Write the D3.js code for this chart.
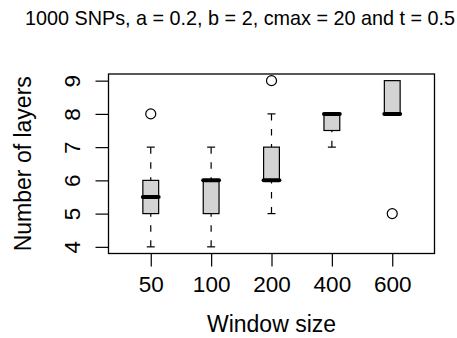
<!DOCTYPE html>
<html>
<head>
<meta charset="utf-8">
<script src="https://cdn.jsdelivr.net/npm/d3@7"></script>
<style>
  body { margin: 0; background: #fff; }
  text { font-family: "Liberation Sans", Arial, sans-serif; fill: #000; }
</style>
</head>
<body>
<div id="chart"></div>
<script>
// data
var windowSizes = ["50", "100", "200", "400", "600"];
var whiskerLow  = [4, 4, 5, 7, 8];
var lowerQuart  = [5, 5, 6, 7.5, 8];
var medians     = [5.5, 6, 6, 8, 8];
var upperQuart  = [6, 6, 7, 8, 9];
var whiskerHigh = [7, 7, 8, 8, 9];
var outliers    = [[8], [], [9], [], [5]];
var yTicks      = [4, 5, 6, 7, 8, 9];

// set the dimensions and margins of the graph
var W = 457, H = 338;
var margin = { top: 74, right: 22.5, bottom: 84.5, left: 108.5 },
    width = W - margin.left - margin.right,
    height = H - margin.top - margin.bottom;

var svg = d3.select("#chart")
    .append("svg")
    .attr("width", W)
    .attr("height", H);

// title
svg.append("text")
    .attr("x", 240)
    .attr("y", 25)
    .attr("text-anchor", "middle")
    .style("font-size", "19.8px")
    .text("1000 SNPs, a = 0.2, b = 2, cmax = 20 and t = 0.5");

var g = svg.append("g")
    .attr("transform", "translate(" + margin.left + "," + margin.top + ")");

// scales like R: 4% padding around the data range
var x = d3.scaleLinear().domain([0.3, 5.7]).range([0, width]);
var y = d3.scaleLinear().domain([3.8, 9.2]).range([height, 0]);

var boxW = 15.8, stapleW = 8;

var stats = windowSizes.map(function (d, i) {
    return { i: i + 1, lo: whiskerLow[i], q1: lowerQuart[i], med: medians[i],
             q3: upperQuart[i], hi: whiskerHigh[i], out: outliers[i] };
});

var boxes = g.selectAll(".box")
    .data(stats)
    .enter()
    .append("g")
    .attr("class", "box");

// whiskers, drawn from the staple toward the box (dashed)
boxes.each(function (d) {
    var sel = d3.select(this), cx = x(d.i);
    [[d.lo, d.q1], [d.hi, d.q3]].forEach(function (w) {
        sel.append("line")
            .attr("x1", cx).attr("x2", cx)
            .attr("y1", y(w[0])).attr("y2", y(w[1]))
            .attr("stroke", "#000")
            .attr("stroke-width", 1.2)
            .attr("stroke-dasharray", "6.5,8.5");
        sel.append("line")
            .attr("x1", cx - stapleW / 2).attr("x2", cx + stapleW / 2)
            .attr("y1", y(w[0])).attr("y2", y(w[0]))
            .attr("stroke", "#000")
            .attr("stroke-width", 1.2);
    });
});

boxes.append("rect")
    .attr("x", function (d) { return x(d.i) - boxW / 2; })
    .attr("y", function (d) { return y(d.q3); })
    .attr("width", boxW)
    .attr("height", function (d) { return y(d.q1) - y(d.q3); })
    .attr("fill", "#d3d3d3")
    .attr("stroke", "#000")
    .attr("stroke-width", 1.2);

boxes.append("line")
    .attr("x1", function (d) { return x(d.i) - boxW / 2; })
    .attr("x2", function (d) { return x(d.i) + boxW / 2; })
    .attr("y1", function (d) { return y(d.med); })
    .attr("y2", function (d) { return y(d.med); })
    .attr("stroke", "#000")
    .attr("stroke-width", 4)
    .attr("stroke-linecap", "round");

// outliers
boxes.each(function (d) {
    d3.select(this).selectAll("circle")
        .data(d.out)
        .enter()
        .append("circle")
        .attr("cx", x(d.i))
        .attr("cy", function (v) { return y(v); })
        .attr("r", 5)
        .attr("fill", "none")
        .attr("stroke", "#000")
        .attr("stroke-width", 1.2);
});

// frame
g.append("rect")
    .attr("width", width)
    .attr("height", height)
    .attr("fill", "none")
    .attr("stroke", "#000")
    .attr("stroke-width", 1.3);

// Y axis
var yAxis = g.append("g")
    .call(d3.axisLeft(y).tickValues(yTicks).tickSize(13).tickFormat(d3.format("d")));
yAxis.select(".domain").remove();
yAxis.selectAll("line").attr("stroke-width", 1.2);
yAxis.selectAll("text")
    .attr("x", null).attr("dy", null)
    .attr("text-anchor", "middle")
    .attr("transform", "translate(-28.5,0) rotate(-90)")
    .style("font-size", "22.5px")
    .style("font-family", "Liberation Sans, Arial, sans-serif");

// X axis
var xAxis = g.append("g")
    .attr("transform", "translate(0," + height + ")")
    .call(d3.axisBottom(x).tickValues([1, 2, 3, 4, 5]).tickSize(13)
        .tickFormat(function (d) { return windowSizes[d - 1]; }));
xAxis.select(".domain").remove();
xAxis.selectAll("line").attr("stroke-width", 1.2);
xAxis.selectAll("text")
    .attr("y", 38).attr("dy", null)
    .style("font-size", "22.5px")
    .style("font-family", "Liberation Sans, Arial, sans-serif");

// axis titles
svg.append("text")
    .attr("x", margin.left + width / 2)
    .attr("y", 332)
    .attr("text-anchor", "middle")
    .style("font-size", "23px")
    .text("Window size");

svg.append("text")
    .attr("transform", "translate(30.5," + (margin.top + height / 2) + ") rotate(-90)")
    .attr("text-anchor", "middle")
    .style("font-size", "23px")
    .text("Number of layers");
</script>
</body>
</html>
